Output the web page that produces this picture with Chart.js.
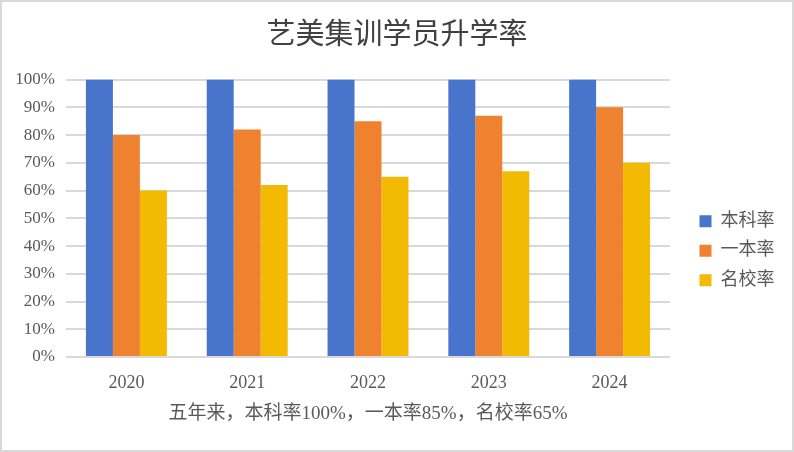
<!DOCTYPE html>
<html><head><meta charset="utf-8">
<script src="https://cdn.jsdelivr.net/npm/chart.js@4"></script>
<style>
html,body{margin:0;padding:0;background:#fff;}
#wrap{width:794px;height:452px;box-sizing:border-box;border:2px solid #d9d9d9;}
canvas{display:block;}
</style></head>
<body><div id="wrap"><canvas id="c" width="790" height="448"></canvas></div>
<script>
const categories = ['2020','2021','2022','2023','2024'];
const seriesNames = ['本科率','一本率','名校率'];
const benke = [100,100,100,100,100];
const yiben = [80,82,85,87,90];
const mingxiao = [60,62,65,67,70];
const yTicks = [0,10,20,30,40,50,60,70,80,90,100];
const colors = ['#4874CB','#EE822F','#F2BA02'];
const FONT = "'Liberation Serif', 'Noto Sans CJK SC', serif";
const TEXT = '#595959';

const legendFix = {
  id: 'legendFix',
  beforeLayout(chart) {
    const lg = chart.legend;
    if (lg && !lg._wrapped) {
      const f = lg.fit;
      lg.fit = function () { f.call(this); this.width = 122; };
      lg._wrapped = true;
    }
  },
  afterLayout(chart) {
    const lg = chart.legend;
    if (lg) { lg.left += 18; lg.right += 18; lg.top += 37; lg.bottom += 37; }
  }
};

new Chart(document.getElementById('c'), {
  type: 'bar',
  data: {
    labels: categories,
    datasets: [benke, yiben, mingxiao].map((d,i)=>({
      label: seriesNames[i], data: d, backgroundColor: colors[i],
      barPercentage: 1.0, categoryPercentage: 0.67, borderWidth: 0
    }))
  },
  options: {
    responsive: false, animation: false,
    layout: { padding: { left: 0, right: 0, top: 0, bottom: 24.6 } },
    plugins: {
      title: { display: true, text: '艺美集训学员升学率', color: '#404040',
        font: { family: FONT, size: 29, weight: 'normal' }, padding: { top: 16.5, bottom: 26.3 } },
      legend: { position: 'right', align: 'center',
        labels: { boxWidth: 12, boxHeight: 12, padding: 11.5, color: TEXT,
          font: { family: FONT, size: 18 } } },
      tooltip: { enabled: false }
    },
    scales: {
      x: {
        grid: { display: false, drawTicks: false }, border: { display: false },
        ticks: { color: TEXT, font: { family: FONT, size: 18 }, padding: 15 },
        title: { display: true, text: '五年来，本科率100%，一本率85%，名校率65%', color: TEXT,
          font: { family: FONT, size: 19 }, padding: { top: -6, bottom: 0 } }
      },
      y: {
        min: 0, max: 100,
        afterBuildTicks: s => { s.ticks = yTicks.map(v => ({ value: v })); },
        afterFit: s => { s.width = 64; },
        ticks: { color: TEXT, font: { family: FONT, size: 17 }, padding: 11,
          callback: v => v + '%' },
        grid: { color: '#d9d9d9', lineWidth: 2, drawTicks: false },
        border: { display: false }
      }
    }
  },
  plugins: [legendFix]
});
</script></body></html>
